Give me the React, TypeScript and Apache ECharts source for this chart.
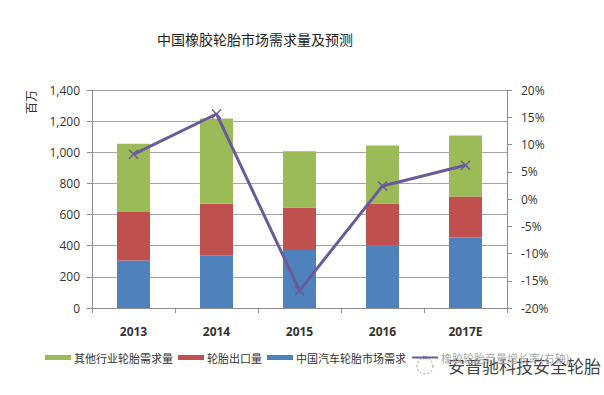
import React, { useEffect, useRef } from "react";
import * as echarts from "echarts";

const categories = ["2013", "2014", "2015", "2016", "2017E"];
const domesticAuto = [305, 339, 373, 403, 452];
const exportTires = [312, 330, 272, 268, 264];
const otherIndustry = [438, 548, 362, 372, 392];
const growthRate = [8.2, 15.6, -16.8, 2.4, 6.2];
const leftTicks = { min: 0, max: 1400, interval: 200 };
const rightTicks = { min: -20, max: 20, interval: 5 };

const nameOther = "其他行业轮胎需求量";
const nameExport = "轮胎出口量";
const nameAuto = "中国汽车轮胎市场需求";
const nameGrowth = "橡胶轮胎产量增长率(右轴)";

const xSymbol = "path://M1,0L5,4L9,0L10,1L6,5L10,9L9,10L5,6L1,10L0,9L4,5L0,1Z";

export default function App() {
  const ref = useRef<HTMLDivElement>(null);
  useEffect(() => {
    if (!ref.current) return;
    const chart = echarts.init(ref.current, null, { renderer: "svg" });
    const font = "'Open Sans', 'Noto Sans CJK SC', sans-serif";
    const cjk = "'Noto Sans CJK SC', sans-serif";
    const axisColor = "#8c8c8c";
    chart.setOption({
      animation: false,
      backgroundColor: "#ffffff",
      textStyle: { fontFamily: font },
      grid: { left: 92, right: 97, top: 90, bottom: 87 },
      legend: {
        left: 40,
        top: 347,
        itemWidth: 26,
        itemHeight: 5,
        itemGap: 5,
        textStyle: { fontFamily: cjk, fontSize: 11, color: "#333", padding: [0, 0, 0, -2] },
        data: [
          { name: nameOther, icon: "rect" },
          { name: nameExport, icon: "rect" },
          { name: nameAuto, icon: "rect" },
          { name: nameGrowth, textStyle: { color: "#aaa" } },
        ],
      },
      xAxis: {
        type: "category",
        data: categories,
        axisLine: { lineStyle: { color: axisColor, width: 1 } },
        axisTick: { show: true, length: 5, lineStyle: { color: axisColor } },
        axisLabel: { color: "#333", fontSize: 12, fontWeight: "bold", margin: 17, fontFamily: font },
      },
      yAxis: [
        {
          type: "value",
          min: leftTicks.min,
          max: leftTicks.max,
          interval: leftTicks.interval,
          axisLine: { show: true, lineStyle: { color: axisColor } },
          axisTick: { show: true, length: 5, inside: false, lineStyle: { color: axisColor } },
          splitLine: { lineStyle: { color: "#a6a6a6", width: 1 } },
          axisLabel: {
            color: "#333",
            fontSize: 12,
            margin: 12,
            fontFamily: font,
            formatter: (v: number) => v.toLocaleString("en-US"),
          },
        },
        {
          type: "value",
          min: rightTicks.min,
          max: rightTicks.max,
          interval: rightTicks.interval,
          position: "right",
          axisLine: { show: true, lineStyle: { color: axisColor } },
          axisTick: { show: true, length: 5, lineStyle: { color: axisColor } },
          splitLine: { show: false },
          axisLabel: { color: "#333", fontSize: 12, margin: 14, fontFamily: font, formatter: "{value}%" },
        },
      ],
      series: [
        {
          name: nameAuto,
          type: "bar",
          stack: "total",
          barWidth: 33,
          data: domesticAuto,
          itemStyle: { color: "#4F81BD" },
        },
        {
          name: nameExport,
          type: "bar",
          stack: "total",
          barWidth: 33,
          data: exportTires,
          itemStyle: { color: "#C0504D" },
        },
        {
          name: nameOther,
          type: "bar",
          stack: "total",
          barWidth: 33,
          data: otherIndustry,
          itemStyle: { color: "#9BBB59" },
        },
        {
          name: nameGrowth,
          type: "line",
          yAxisIndex: 1,
          data: growthRate,
          symbol: xSymbol,
          symbolSize: 10,
          lineStyle: { color: "#6A5A9A", width: 3 },
          itemStyle: { color: "#6A5A9A" },
          z: 5,
        },
      ],
      graphic: [
        {
          type: "text",
          left: 157,
          top: 32,
          style: {
            text: "中国橡胶轮胎市场需求量及预测",
            fontFamily: cjk,
            fontSize: 14,
            fill: "#222",
          },
        },
        {
          type: "text",
          x: 24,
          y: 114,
          rotation: Math.PI / 2,
          style: { text: "百万", fontFamily: cjk, fontSize: 12, fill: "#333" },
        },
        {
          type: "circle",
          shape: { cx: 425, cy: 366, r: 8 },
          style: { fill: "rgba(255,255,255,0.6)", stroke: "#999", lineWidth: 1, lineDash: [2, 2] },
        },
        {
          type: "text",
          x: 448,
          y: 357,
          style: {
            text: "安普驰科技安全轮胎",
            fontFamily: cjk,
            fontSize: 17,
            fill: "#444",
            stroke: "rgba(255,255,255,0.8)",
            lineWidth: 2,
          },
        },
      ],
    });
    return () => chart.dispose();
  }, []);
  return (
    <div
      ref={ref}
      style={{ position: "absolute", left: 0, top: 0, width: 604, height: 395 }}
    />
  );
}
